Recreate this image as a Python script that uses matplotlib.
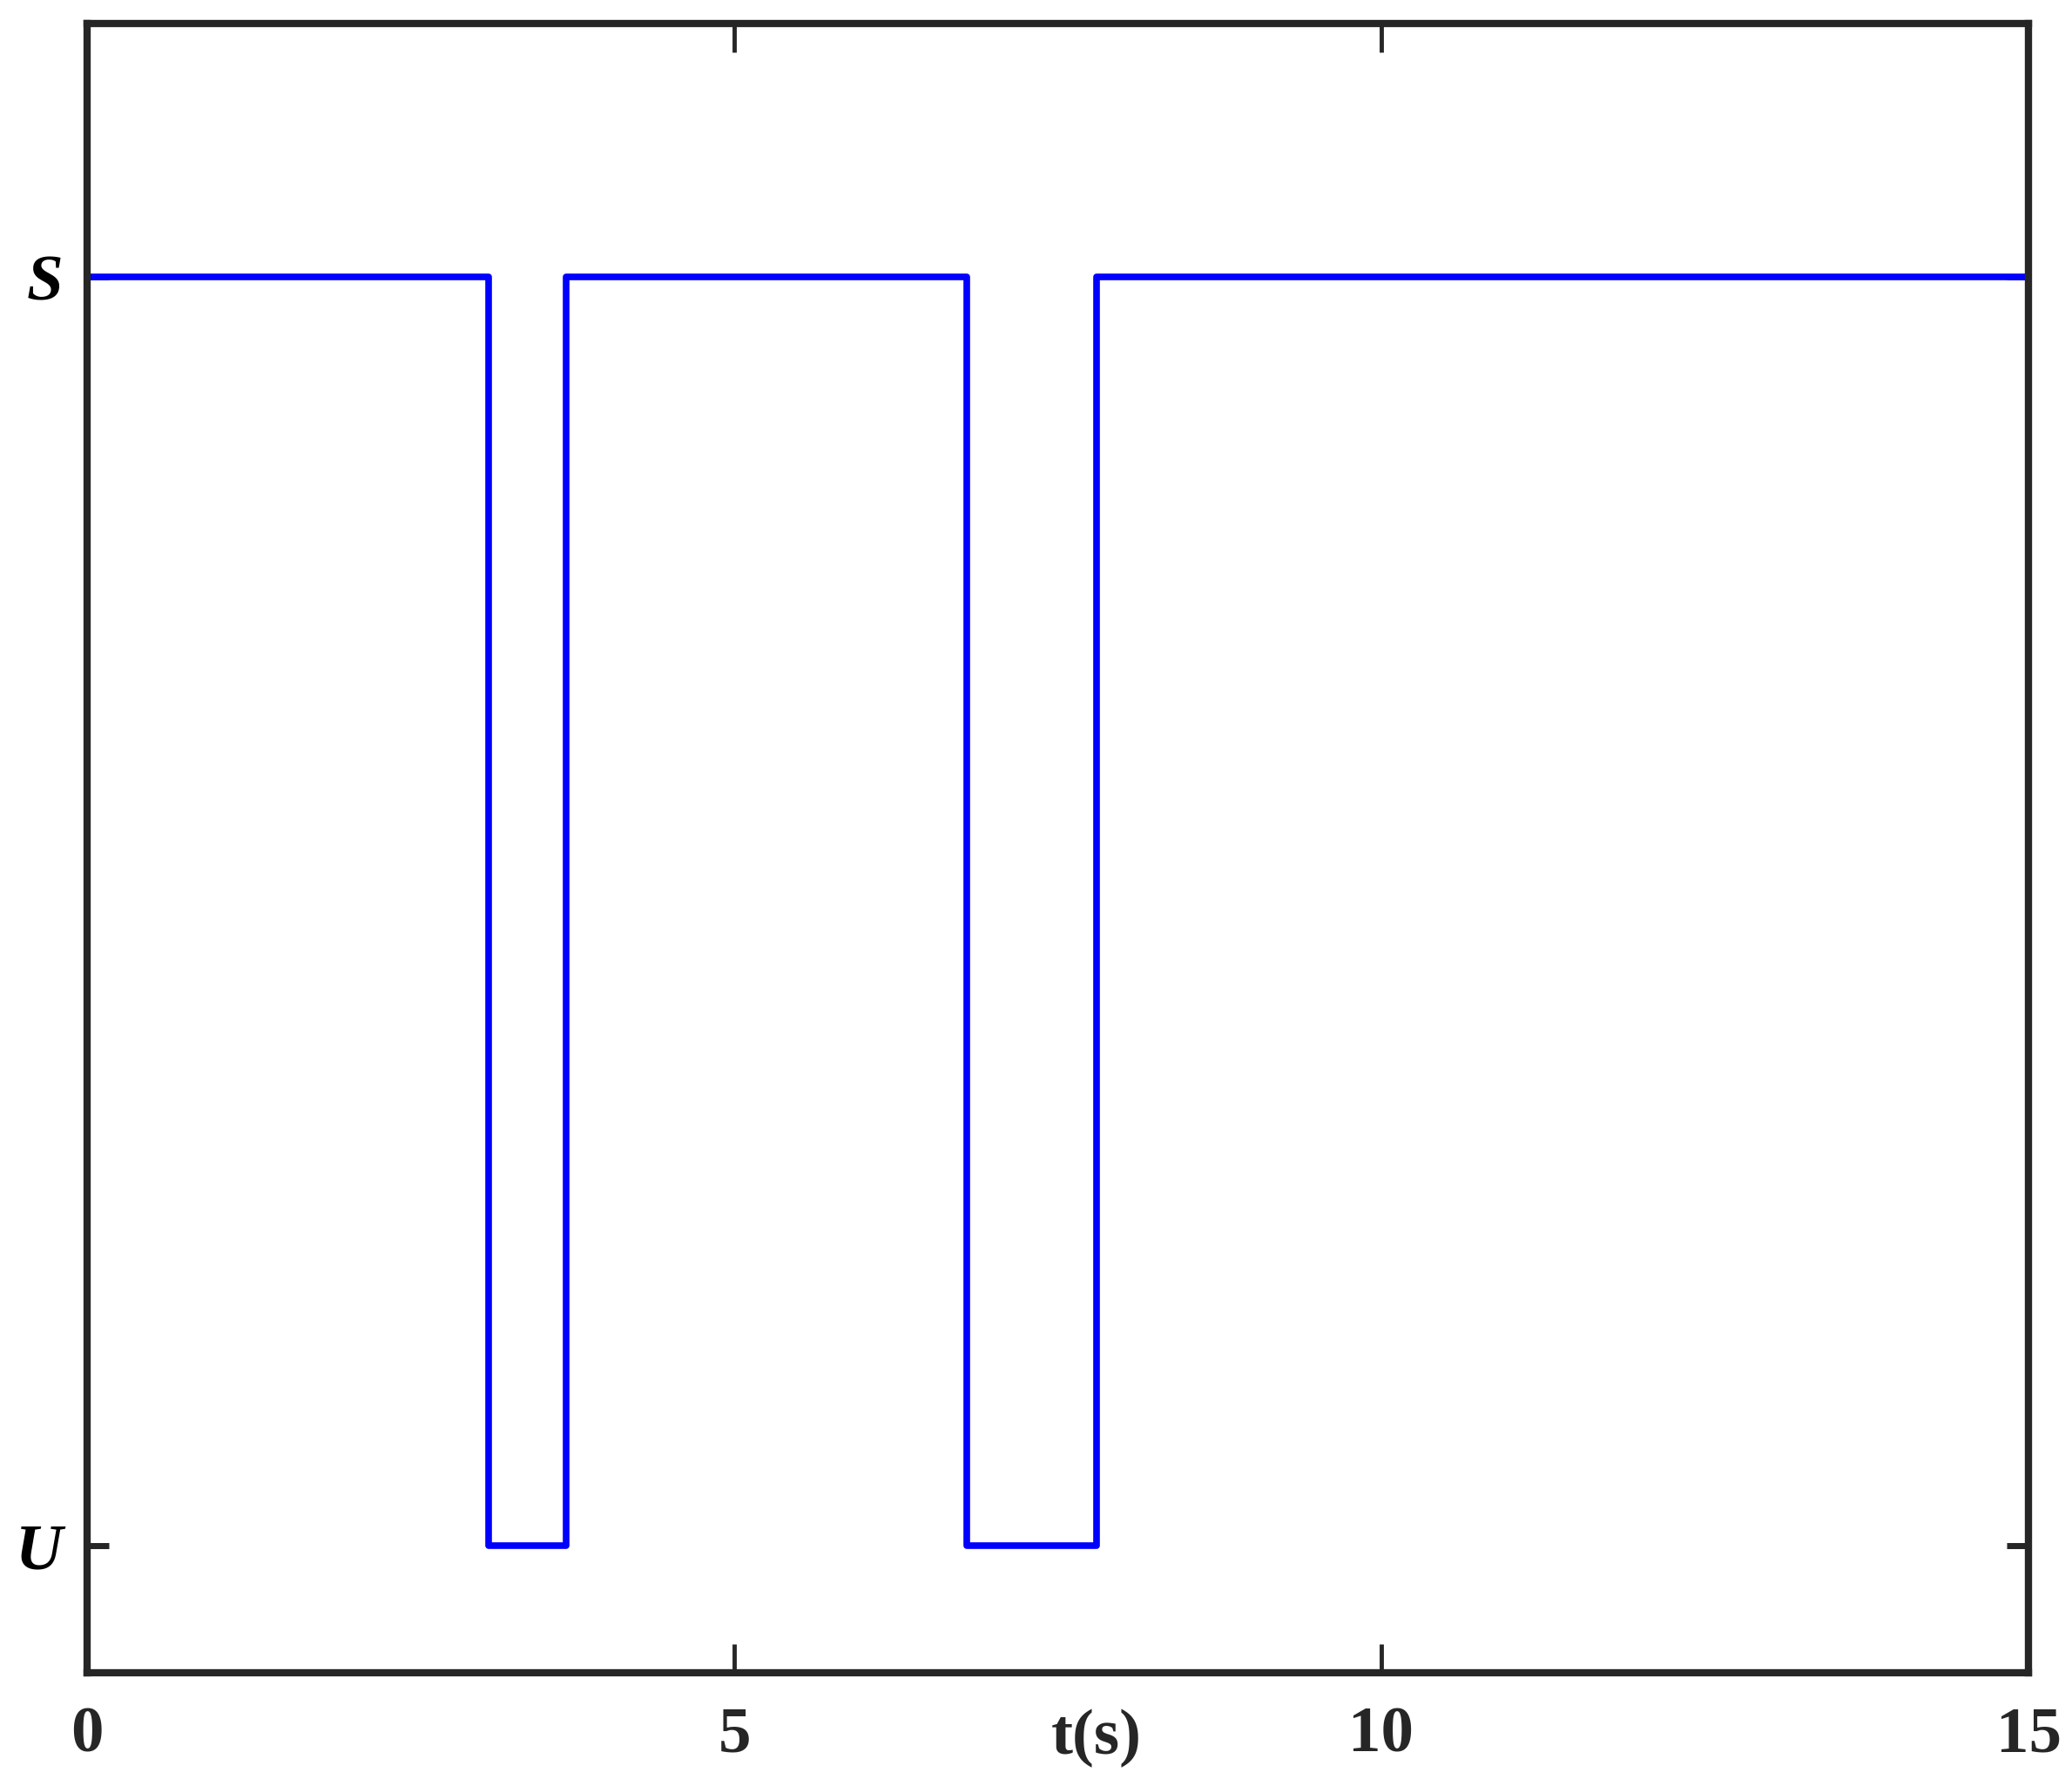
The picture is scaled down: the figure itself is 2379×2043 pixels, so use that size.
import matplotlib
matplotlib.use("Agg")
import matplotlib.pyplot as plt
from matplotlib.transforms import offset_copy

# switching times (s) and state after each switch: 1 = S, 0 = U
t_switch = [0.0, 3.1, 3.7, 6.8, 7.8, 15.0]
state = [1, 0, 1, 0, 1, 1]

xticks = [0, 5, 10, 15]
xtick_labels = ["0", "5", "10", "15"]
ytick_pos = [0, 1]
ytick_labels = ["U", "S"]

plt.rcParams['font.family'] = ['Liberation Serif', 'DejaVu Serif']
dark = '#262626'

fig = plt.figure(figsize=(23.79, 20.43), dpi=100)
ax = fig.add_axes([100 / 2379, 1 - 1921 / 2043, 2229 / 2379, 1894 / 2043])

ax.step(t_switch, state, where='post', color='#0000ff', linewidth=5.5)

ax.set_xlim(0, 15)
ax.set_ylim(-0.1, 1.2)

ax.set_xticks(xticks)
ax.set_xticklabels(xtick_labels, fontsize=54, fontweight='bold', color=dark)
ax.set_yticks(ytick_pos)
ax.set_yticklabels(ytick_labels, fontsize=54, fontweight='bold', fontstyle='italic', color='black')

ax.tick_params(axis='x', direction='in', length=24, width=3.5, color=dark, top=True, pad=28)
ax.tick_params(axis='y', direction='in', length=18, width=5, color=dark, right=True, pad=20)

for sp in ax.spines.values():
    sp.set_linewidth(6)
    sp.set_color(dark)

# x label sits on the tick-label row, near t = 7.8
ax.text(7.8, -0.1, "t(s)", fontsize=54, fontweight='bold', color=dark,
        ha='center', va='top',
        transform=offset_copy(ax.transData, fig=fig, x=0, y=-30, units='points'))

fig.savefig("out.png", dpi=100, facecolor='white')
